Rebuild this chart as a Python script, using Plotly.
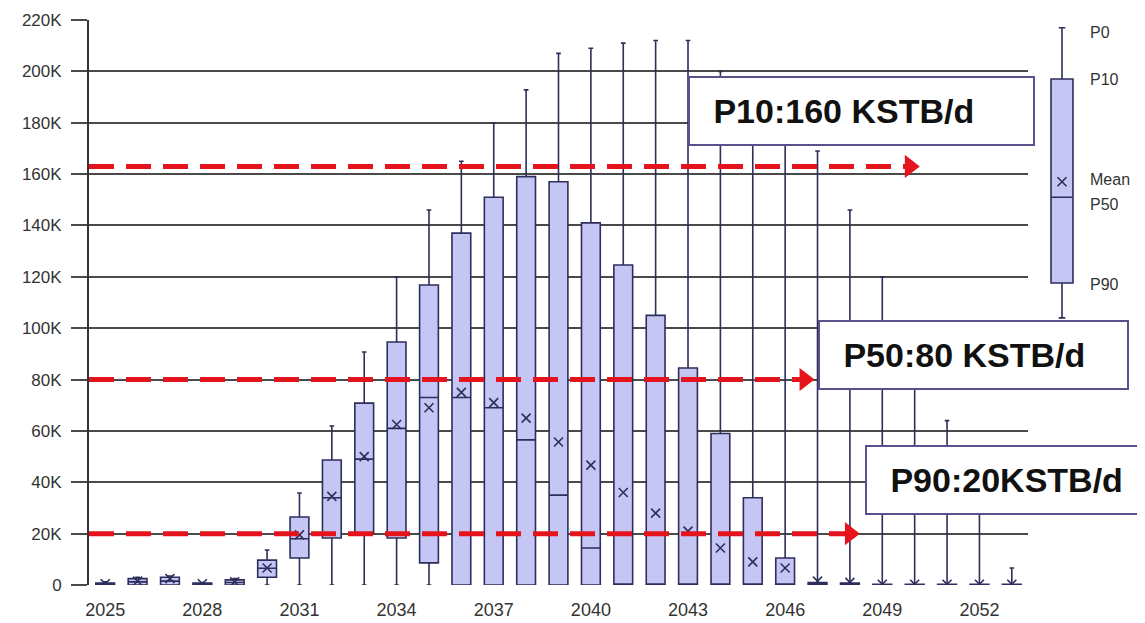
import plotly.graph_objects as go

# 年度产量分布 (STB/d)
years = list(range(2025, 2054))
p90 = [0, 0, 0, 0, 0, 3000, 10500, 18300, 20000, 18300, 8600, 0, 0, 0, 0, 0,
       0, 0, 0, 0, 0, 0, 0, 0, 0, 0, 0, 0, 0]
p50 = [300, 1200, 1500, 300, 1000, 6500, 18000, 34000, 49000, 61000, 73000, 73000,
       69000, 56500, 35000, 14400, 0, 0, 0, 0, 0, 0, 0, 0, 0, 0, 0, 0, 0]
p10 = [800, 2500, 3000, 800, 2000, 9700, 26500, 48700, 70800, 94600, 116800, 137000,
       151000, 159000, 157000, 141000, 124600, 105000, 84500, 59000, 34000, 10500,
       1000, 800, 300, 300, 300, 300, 300]
p0 = [1200, 3000, 3500, 1000, 2500, 13600, 35800, 61900, 90700, 120000, 146000, 165000,
      180000, 192800, 207000, 209000, 211000, 212000, 212000, 200000, 190000, 185000,
      169000, 146000, 120000, 95000, 64000, 40000, 6600]
p100 = [0] * len(years)
mean = [500, 1500, 2500, 500, 1200, 6600, 19500, 34500, 50000, 62500, 69000, 75000,
        71000, 65000, 55700, 46700, 36000, 28000, 21000, 14400, 9000, 6600, 1500,
        1000, 300, 300, 300, 300, 300]

tick_years = list(range(2025, 2053, 3))
y_ticks = list(range(0, 220001, 20000))
y_labels = ['0'] + [f'{v // 1000}K' for v in y_ticks[1:]]

# 图例箱线
legend_vals = dict(p0=217000, p10=197000, mean=157000, p50=151000, p90=117600, p100=104000)

# 参考线 (虚线箭头)
ref_levels = [163000, 80000, 20000]
ref_ends = [2049.85, 2046.6, 2048.0]
ref_texts = ['P10:160 KSTB/d', 'P50:80 KSTB/d', 'P90:20KSTB/d']

box_fill = '#c6c6f4'
box_line = '#2e2e5c'
red = '#e5141c'
grid = '#4a4a4a'
font_name = 'Liberation Sans, Arial, sans-serif'

fig = go.Figure()

fig.add_trace(go.Box(
    x=years, q1=p90, median=p50, q3=p10, lowerfence=p100, upperfence=p0,
    width=0.58, whiskerwidth=0.25, fillcolor=box_fill,
    line=dict(color=box_line, width=1.6), boxpoints=False, hoverinfo='skip'
))
fig.add_trace(go.Scatter(
    x=years, y=mean, mode='markers',
    marker=dict(symbol='x-thin', size=9, line=dict(color=box_line, width=1.6)),
    hoverinfo='skip'
))

# 图例
fig.add_trace(go.Box(
    x=[0], q1=[legend_vals['p90']], median=[legend_vals['p50']], q3=[legend_vals['p10']],
    lowerfence=[legend_vals['p100']], upperfence=[legend_vals['p0']],
    width=1.1, whiskerwidth=0.3, fillcolor=box_fill,
    line=dict(color=box_line, width=1.6), boxpoints=False,
    xaxis='x2', yaxis='y2', hoverinfo='skip'
))
fig.add_trace(go.Scatter(
    x=[0], y=[legend_vals['mean']], mode='markers', xaxis='x2', yaxis='y2',
    marker=dict(symbol='x-thin', size=9, line=dict(color=box_line, width=1.6)),
    hoverinfo='skip'
))

for lvl, end in zip(ref_levels, ref_ends):
    fig.add_trace(go.Scatter(
        x=[2024.5, end], y=[lvl, lvl], mode='lines',
        line=dict(color=red, width=5, dash='25px,12px'), hoverinfo='skip'
    ))
fig.add_trace(go.Scatter(
    x=ref_ends, y=ref_levels, mode='markers', cliponaxis=False,
    marker=dict(symbol='triangle-right', size=20, color=red), hoverinfo='skip'
))

# 文本框
box_pos = [(0.567, 184400, 315), (0.690, 89400, 279), (0.735, 40700, 300)]
for text, (bx, by, bw) in zip(ref_texts, box_pos):
    fig.add_annotation(
        x=bx, xref='paper', y=by, yref='y', xanchor='left', yanchor='middle',
        text='&nbsp;' + text, showarrow=False, align='left', width=bw,
        font=dict(family=font_name, size=34, color='#111111', weight='bold'),
        bgcolor='white', bordercolor='#5b4f8c', borderwidth=2, borderpad=14
    )

legend_labels = [('P0', 215000), ('P10', 197000), ('Mean', 158000), ('P50', 148000), ('P90', 117000)]
for lab, ly in legend_labels:
    fig.add_annotation(
        x=0.946, xref='paper', y=ly, yref='y', xanchor='left', yanchor='middle',
        text=lab, showarrow=False,
        font=dict(family=font_name, size=16, color='#333333')
    )

# 页面 body 自带 8px 边距，图尺寸相应缩小
fig.update_layout(
    width=1137, height=615,
    margin=dict(l=81, r=0, t=12, b=38),
    plot_bgcolor='white', paper_bgcolor='white',
    showlegend=False,
    xaxis=dict(
        domain=[0, 0.8892], range=[2024.5, 2053.5],
        tickvals=tick_years, ticktext=[str(t) for t in tick_years],
        showgrid=False, zeroline=False, showline=False, ticks='',
        tickfont=dict(family=font_name, size=18, color='#333333'),
        ticklabelstandoff=12
    ),
    yaxis=dict(
        range=[0, 220000], tickvals=y_ticks, ticktext=y_labels,
        showgrid=True, gridcolor=grid, gridwidth=2, zeroline=False,
        showline=True, linecolor='#333333', linewidth=2,
        ticks='outside', ticklen=16, tickcolor=grid, tickwidth=2,
        tickfont=dict(family=font_name, size=17, color='#333333'),
        ticklabelstandoff=6
    ),
    xaxis2=dict(domain=[0.9025, 0.9403], range=[-1, 1], anchor='y2', visible=False),
    yaxis2=dict(domain=[0, 1], range=[0, 220000], anchor='x2', visible=False),
)

fig.write_html('out.html')
